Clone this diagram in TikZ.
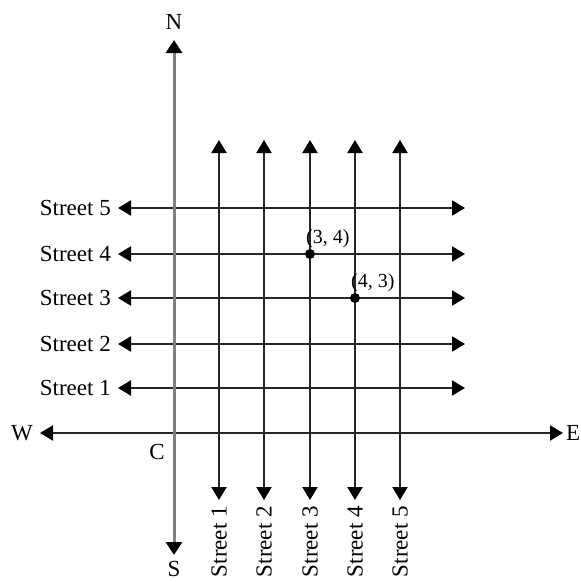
\documentclass[tikz,border=0pt]{standalone}
\usepackage{fontspec}
\setmainfont{Liberation Serif}
\usetikzlibrary{arrows.meta}
\tikzset{
  road/.style={line width=2pt, draw=black!85, {Triangle[length=13pt,width=15pt,color=black]}-{Triangle[length=13pt,width=15pt,color=black]}},
  axisns/.style={line width=3pt, draw=black!50, {Triangle[length=13pt,width=16pt,color=black]}-{Triangle[length=13pt,width=16pt,color=black]}},
  lbl/.style={font=\fontsize{23}{25}\selectfont, inner sep=0pt},
  ptlbl/.style={font=\fontsize{20}{22}\selectfont, inner sep=0pt},
  dot/.style={circle, fill=black, inner sep=0pt, minimum size=10pt}
}
\begin{document}
\begin{tikzpicture}[x=1pt,y=-1pt]
\useasboundingbox (0,0) rectangle (581,582);
% axes
\coordinate (Ntip) at (174,40);
\coordinate (Stip) at (174,555);
\coordinate (Wtip) at (40,433);
\coordinate (Etip) at (563,433);
\node[lbl] (N) at (174,22) {N};
\node[lbl, anchor=north] (S) at (174,561) {S};
\node[lbl, anchor=east] (W) at (33,433) {W};
\node[lbl, anchor=west] (E) at (566,433) {E};
\node[lbl] (C) at (157,452) {C};
\draw[road] (Wtip) -- (Etip);
% horizontal streets
\foreach \i/\y in {5/208,4/254,3/298,2/344,1/388}{
  \coordinate (hL\i) at (118,\y);
  \coordinate (hR\i) at (465,\y);
  \node[lbl, anchor=east] (hlab\i) at (111,\y) {Street \i};
  \draw[road] (hL\i) -- (hR\i);
}
% vertical streets
\foreach \i/\x in {1/219,2/264,3/310,4/355,5/400}{
  \coordinate (vT\i) at (\x,140);
  \coordinate (vB\i) at (\x,500);
  \node[lbl, rotate=90, anchor=east] (vlab\i) at (\x,506) {Street \i};
  \draw[road] (vB\i) -- (vT\i);
}
\draw[axisns] (Stip) -- (Ntip);
% points
\node[dot] (p34) at (310,254) {};
\node[dot] (p43) at (355,298) {};
\node[ptlbl, anchor=south west] (l34) at (306,248) {(3, 4)};
\node[ptlbl, anchor=south west] (l43) at (351,292) {(4, 3)};
\end{tikzpicture}
\end{document}
